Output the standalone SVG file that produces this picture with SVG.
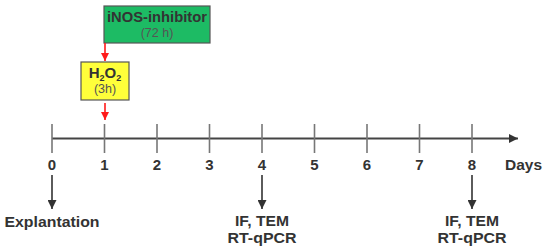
<svg xmlns="http://www.w3.org/2000/svg" width="550" height="252" viewBox="0 0 550 252">
<style>
.lbl{font-family:"Liberation Sans",Arial,sans-serif;font-weight:bold;font-size:15px;fill:#333;text-anchor:middle}
.sub{font-family:"Liberation Sans",Arial,sans-serif;font-size:12.5px;fill:#555;text-anchor:middle}
.tick{stroke:#777;stroke-width:1.6}
.blk{stroke:#333;stroke-width:1.6;fill:none}
.red{stroke:#ff1a1a;stroke-width:1.6;fill:none}
</style>
<defs>
<marker id="ab" viewBox="0 0 10 10" refX="10" refY="5" markerWidth="9" markerHeight="9" markerUnits="userSpaceOnUse" orient="auto"><path d="M0,0 L10,5 L0,10 z" fill="#333"/></marker>
<marker id="ar" viewBox="0 0 10 10" refX="10" refY="5" markerWidth="8" markerHeight="8" markerUnits="userSpaceOnUse" orient="auto"><path d="M0,0 L10,5 L0,10 z" fill="#ff1a1a"/></marker>
<marker id="axh" viewBox="0 0 10 10" refX="10" refY="5" markerWidth="10" markerHeight="9" markerUnits="userSpaceOnUse" orient="auto"><path d="M0,0 L10,5 L0,10 z" fill="#333"/></marker>
</defs>
<g id="axis">
<line x1="52" y1="138.5" x2="518" y2="138.5" stroke="#444" stroke-width="2" marker-end="url(#axh)"/>
<line class="tick" x1="52" y1="124" x2="52" y2="153"/>
<line class="tick" x1="104.5" y1="124" x2="104.5" y2="153"/>
<line class="tick" x1="157" y1="124" x2="157" y2="153"/>
<line class="tick" x1="209.5" y1="124" x2="209.5" y2="153"/>
<line class="tick" x1="262" y1="124" x2="262" y2="153"/>
<line class="tick" x1="314.5" y1="124" x2="314.5" y2="153"/>
<line class="tick" x1="367" y1="124" x2="367" y2="153"/>
<line class="tick" x1="419.5" y1="124" x2="419.5" y2="153"/>
<line class="tick" x1="472" y1="124" x2="472" y2="153"/>
<text class="lbl" x="52" y="170">0</text>
<text class="lbl" x="104.5" y="170">1</text>
<text class="lbl" x="157" y="170">2</text>
<text class="lbl" x="209.5" y="170">3</text>
<text class="lbl" x="262" y="170">4</text>
<text class="lbl" x="314.5" y="170">5</text>
<text class="lbl" x="367" y="170">6</text>
<text class="lbl" x="419.5" y="170">7</text>
<text class="lbl" x="472" y="170">8</text>
<text class="lbl" x="523.5" y="170" textLength="37" lengthAdjust="spacingAndGlyphs">Days</text>
</g>
<g id="inos">
<rect x="104" y="6" width="106" height="37" fill="#1dbb64" stroke="#555" stroke-width="1.2"/>
<text class="lbl" x="157" y="22" textLength="100" lengthAdjust="spacingAndGlyphs">iNOS-inhibitor</text>
<text class="sub" x="157" y="37">(72 h)</text>
</g>
<g id="h2o2">
<rect x="81" y="62" width="48" height="38" fill="#ffff3a" stroke="#555" stroke-width="1.2"/>
<text class="lbl" x="105" y="78">H<tspan font-size="9" dy="3">2</tspan><tspan dy="-3">O</tspan><tspan font-size="9" dy="3">2</tspan></text>
<text class="sub" x="105" y="93">(3h)</text>
</g>
<g id="explantation">
<text class="lbl" x="52" y="227" textLength="95" lengthAdjust="spacingAndGlyphs">Explantation</text>
</g>
<g id="day4">
<text class="lbl" x="262" y="226" textLength="54" lengthAdjust="spacingAndGlyphs">IF, TEM</text>
<text class="lbl" x="262" y="243" textLength="69" lengthAdjust="spacingAndGlyphs">RT-qPCR</text>
</g>
<g id="day8">
<text class="lbl" x="472" y="226" textLength="54" lengthAdjust="spacingAndGlyphs">IF, TEM</text>
<text class="lbl" x="472" y="243" textLength="69" lengthAdjust="spacingAndGlyphs">RT-qPCR</text>
</g>
<g id="connectors">
<line class="red" x1="105" y1="43" x2="105" y2="61" marker-end="url(#ar)"/>
<line class="red" x1="105" y1="103" x2="105" y2="120" marker-end="url(#ar)"/>
<line class="blk" x1="52" y1="175" x2="52" y2="209" marker-end="url(#ab)"/>
<line class="blk" x1="262" y1="175" x2="262" y2="209" marker-end="url(#ab)"/>
<line class="blk" x1="472" y1="175" x2="472" y2="209" marker-end="url(#ab)"/>
</g>
</svg>
